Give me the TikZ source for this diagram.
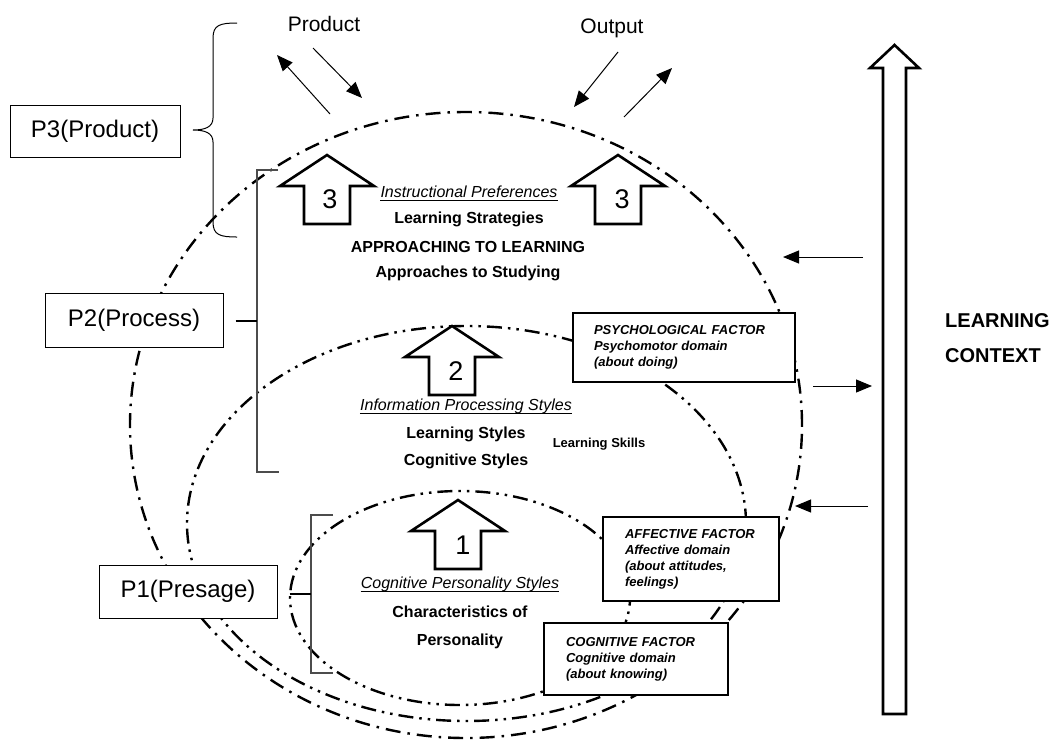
\documentclass[tikz,border=0pt]{standalone}
\usepackage{fontspec}
\setmainfont{Liberation Sans}
\usetikzlibrary{arrows.meta}
\begin{document}
\begin{tikzpicture}[x=1pt,y=-1pt,
  pbox/.style={draw, line width=1pt, fill=white, inner sep=0pt, font=\fontsize{24}{28}\selectfont},
  fbox/.style={draw, line width=2.2pt, fill=white, align=left, inner ysep=0pt, font=\fontsize{13}{16}\selectfont\bfseries\itshape},
  ellA/.style={line width=2.4pt, dash pattern=on 15pt off 7pt on 2.5pt off 7pt},
  ellB/.style={line width=2.4pt, dash pattern=on 15pt off 6pt on 2.5pt off 6pt on 2.5pt off 6pt},
  barrow/.style={draw, line width=2.6pt, fill=white, line join=miter},
  numtext/.style={inner sep=0pt, font=\fontsize{27}{30}\selectfont},
  thinarrow/.style={line width=1pt, -{Triangle[length=16pt,width=13pt]}},
  btext/.style={inner sep=0pt, font=\fontsize{16}{19}\selectfont\bfseries},
  itext/.style={inner sep=0pt, font=\fontsize{16}{19}\selectfont\itshape},
  uline/.style={line width=1.2pt},
  bracket/.style={line width=1.5pt, draw=black!70},
  uparr/.pic={\draw[barrow] (0,0) -- (47,31) -- (23,31) -- (23,69) -- (-23,69) -- (-23,31) -- (-47,31) -- cycle;}
]
\useasboundingbox (0,0) rectangle (1056,740);

% ellipses
\draw[ellA] (466,425) ellipse [x radius=336pt, y radius=313pt];
\draw[ellB] (466.5,523.5) ellipse [x radius=279.5pt, y radius=197.5pt];
\draw[ellB] (460,598) ellipse [x radius=170pt, y radius=107pt];

% top labels and arrows
\node[inner sep=0pt, font=\fontsize{21}{24}\selectfont] (prod) at (324,24) {Product};
\node[inner sep=0pt, font=\fontsize{21}{24}\selectfont] (outp) at (612,28) {Output};
\coordinate (pa1s) at (330,114); \coordinate (pa1e) at (277,55);
\coordinate (pa2s) at (313,48);  \coordinate (pa2e) at (362,98);
\coordinate (oa1s) at (618,52);  \coordinate (oa1e) at (574,107);
\coordinate (oa2s) at (624,117); \coordinate (oa2e) at (672,68);
\draw[thinarrow] (pa1s) -- (pa1e);
\draw[thinarrow] (pa2s) -- (pa2e);
\draw[thinarrow] (oa1s) -- (oa1e);
\draw[thinarrow] (oa2s) -- (oa2e);

% P boxes
\node[pbox, minimum width=170pt, minimum height=52pt] (p3) at (95,131) {P3(Product)};
\node[pbox, minimum width=178pt, minimum height=54pt] (p2) at (134,320) {P2(Process)};
\node[pbox, minimum width=178pt, minimum height=53pt] (p1) at (188,591.5) {P1(Presage)};

% brace for P3
\draw[line width=1pt] (237,23) .. controls (220,23) and (213,25) .. (213,38) -- (213,118)
  .. controls (213,127) and (205,130) .. (193,130)
  .. controls (205,130) and (213,133) .. (213,142) -- (213,222)
  .. controls (213,235) and (220,237) .. (237,237);

% bracket for P2
\coordinate (b2m) at (257,321);
\draw[bracket] (278,170) -- (257,170) -- (257,472) -- (279,472);
\draw[line width=1.5pt] ([xshift=12pt]p2.east |- b2m) -- (b2m);
% bracket for P1
\coordinate (b1m) at (311,594);
\draw[bracket] (333,515) -- (311,515) -- (311,673) -- (333,673);
\draw[line width=1.5pt] ([xshift=12pt]p1.east |- b1m) -- (b1m);

% block arrows
\pic (ar3a) at (327,155) {uparr};
\pic (ar3b) at (618,155) {uparr};
\pic (ar2) at (452,326) {uparr};
\pic (ar1) at (458,500) {uparr};
\node[numtext] (n3a) at (330,199) {3};
\node[numtext] (n3b) at (622,199) {3};
\node[numtext] (n2) at (456,371) {2};
\node[numtext] (n1) at (463,545) {1};

% central texts
\node[itext] (ip) at (469,192) {Instructional Preferences};
\draw[uline] ([yshift=-3pt]ip.base west) -- ([yshift=-3pt]ip.base east);
\node[btext] (ls) at (469,219) {Learning Strategies};
\node[btext] (atl) at (468,247) {APPROACHING TO LEARNING};
\node[btext] (ats) at (468,273) {Approaches to Studying};

\node[itext] (ips) at (466,406) {Information Processing Styles};
\draw[uline] ([yshift=-3pt]ips.base west) -- ([yshift=-3pt]ips.base east);
\node[btext] (lst) at (466,434) {Learning Styles};
\node[btext] (cst) at (466,461) {Cognitive Styles};
\node[inner sep=0pt, font=\fontsize{13}{16}\selectfont\bfseries] (lsk) at (599,444) {Learning Skills};

\node[itext] (cps) at (460,584) {Cognitive Personality Styles};
\draw[uline] ([yshift=-3pt]cps.base west) -- ([yshift=-3pt]cps.base east);
\node[btext] (cof) at (460,612) {Characteristics of};
\node[btext] (per) at (460,641) {Personality};

% factor boxes
\node[fbox, inner xsep=21pt, text width=180pt, minimum height=69pt] (psy) at (684,347.5)
  {PSYCHOLOGICAL FACTOR\\Psychomotor domain\\(about doing)};
\node[fbox, inner xsep=22pt, text width=132pt, minimum height=84pt] (aff) at (691,559)
  {AFFECTIVE FACTOR\\\makebox[132pt][s]{Affective domain}\\\makebox[132pt][s]{(about attitudes,}\\feelings)};
\node[fbox, inner xsep=22pt, text width=140pt, minimum height=72pt] (cog) at (636,659)
  {COGNITIVE FACTOR\\\makebox[140pt][s]{Cognitive domain}\\(about knowing)};

% learning context arrow
\draw[barrow] (894.5,45) -- (919,68) -- (906,68) -- (906,714) -- (883,714) -- (883,68) -- (870,68) -- cycle;
\node[inner sep=0pt, align=left, anchor=west, font=\fontsize{20}{35}\selectfont\bfseries] (lc) at (945,338) {LEARNING\\CONTEXT};

\coordinate (c1s) at (863,257); \coordinate (c1e) at (783,257);
\coordinate (c2s) at (813,386); \coordinate (c2e) at (872,386);
\coordinate (c3s) at (868,506); \coordinate (c3e) at (795,506);
\draw[thinarrow] (c1s) -- (c1e);
\draw[thinarrow] (c2s) -- (c2e);
\draw[thinarrow] (c3s) -- (c3e);
\end{tikzpicture}
\end{document}
